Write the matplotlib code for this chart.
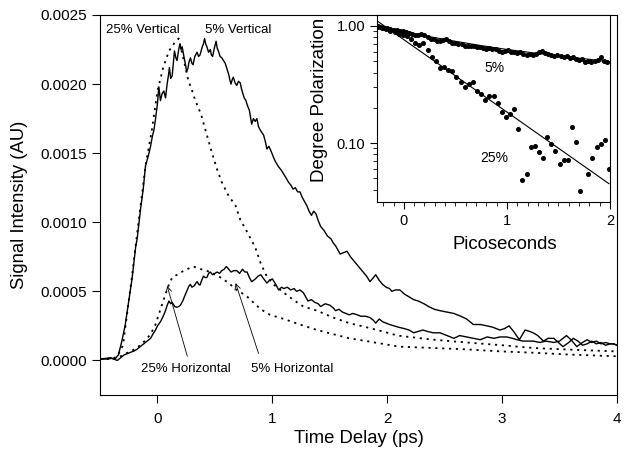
import numpy as np
import matplotlib
matplotlib.use("Agg")
import matplotlib.pyplot as plt
from matplotlib.ticker import MultipleLocator, FixedLocator, LogLocator, NullFormatter

plt.rcParams['font.family'] = ['Liberation Sans', 'DejaVu Sans']

# ---- main panel: signal vs time delay (signal in units of 1e-4) ----
t_v5 = [-0.50, -0.45, -0.40, -0.37, -0.34, -0.31, -0.28, -0.25, -0.22, -0.19, -0.177, -0.148,
        -0.124, -0.104, -0.08, -0.06, -0.045, -0.03, -0.015, 0.0, 0.012, 0.026, 0.04, 0.055,
        0.07, 0.084, 0.095, 0.104, 0.115, 0.128, 0.138, 0.148, 0.16, 0.17, 0.185, 0.195, 0.205,
        0.215, 0.23, 0.244, 0.254, 0.264, 0.275, 0.287, 0.30, 0.31, 0.325, 0.345, 0.358, 0.37,
        0.38, 0.39, 0.40, 0.41, 0.42, 0.43, 0.445, 0.46, 0.47, 0.48, 0.495, 0.51, 0.52, 0.53,
        0.545, 0.56, 0.575, 0.59, 0.605, 0.62, 0.63, 0.64, 0.65, 0.66, 0.675, 0.69, 0.705, 0.72,
        0.73, 0.74, 0.755, 0.77, 0.785, 0.80, 0.81, 0.82, 0.835, 0.85, 0.865, 0.88, 0.90, 0.924,
        0.94, 0.953, 0.97, 0.996, 1.01, 1.026, 1.04, 1.055, 1.075, 1.098, 1.12, 1.14, 1.16, 1.18,
        1.20, 1.22, 1.24, 1.26, 1.28, 1.30, 1.32, 1.34, 1.36, 1.38, 1.40, 1.42, 1.45, 1.48, 1.51,
        1.53, 1.55, 1.57, 1.59, 1.62, 1.65, 1.68, 1.71, 1.74, 1.77, 1.80, 1.82, 1.85, 1.88, 1.90,
        1.93, 1.96, 1.99, 2.02, 2.04, 2.07, 2.11, 2.15, 2.19, 2.23, 2.27, 2.32, 2.36, 2.41, 2.46,
        2.52, 2.58, 2.64, 2.69, 2.75, 2.81, 2.87, 2.92, 2.98, 3.02, 3.06, 3.10, 3.15, 3.20, 3.24,
        3.27, 3.31, 3.36, 3.40, 3.45, 3.49, 3.53, 3.58, 3.62, 3.66, 3.70, 3.74, 3.78, 3.82, 3.86,
        3.90, 3.94, 3.97, 4.00]
s_v5 = [0.1, 0.1, 0.15, 0.1, 0.4, 1.4, 2.6, 4.3, 6.0, 8.2, 8.8, 10.9,
        12.4, 14.1, 14.8, 15.5, 16.2, 16.7, 17.6, 18.6, 19.8, 18.8, 19.3, 19.5,
        19.0, 20.0, 20.6, 21.2, 20.4, 20.6, 21.5, 22.4, 21.9, 21.7, 22.5, 22.9, 22.5,
        22.7, 22.0, 21.4, 20.9, 21.1, 21.6, 21.9, 21.5, 21.4, 22.0, 22.3, 22.0, 22.1,
        22.4, 22.7, 22.9, 23.3, 22.9, 22.7, 22.3, 22.5, 22.1, 22.0, 22.6, 23.1, 22.6, 22.4,
        22.0, 21.9, 21.7, 21.5, 21.1, 20.7, 20.3, 20.0, 20.3, 20.5, 20.1, 19.9, 20.2, 20.1,
        19.7, 19.4, 19.0, 18.8, 18.4, 18.1, 17.6, 17.1, 17.5, 17.3, 17.5, 16.9, 16.6, 16.3,
        15.8, 15.3, 15.5, 15.0, 14.7, 14.4, 14.2, 14.0, 13.8, 13.5, 13.2, 12.9, 12.7, 12.4,
        12.5, 12.2, 12.2, 11.8, 11.5, 11.2, 10.8, 10.5, 10.8, 10.6, 10.1, 9.7, 9.4, 9.0, 8.8,
        8.5, 8.3, 8.0, 7.7, 7.8, 7.9, 7.5, 7.2, 6.9, 6.6, 6.3, 6.1, 5.7, 6.0, 6.2,
        5.8, 5.5, 5.3, 5.2, 5.0, 5.1, 5.1, 4.8, 4.6, 4.4, 4.3, 4.1, 3.9, 3.7, 3.6,
        3.5, 3.4, 3.2, 3.0, 2.6, 2.6, 2.5, 2.4, 2.2, 2.3, 2.5, 2.1, 1.5, 2.2, 2.1,
        2.0, 1.8, 1.4, 1.6, 1.6, 1.3, 1.0, 1.3, 1.6, 1.4, 1.1, 1.2, 1.4, 1.2, 1.3,
        1.1, 1.2, 1.2, 1.1]

t_h5 = [-0.50, -0.45, -0.41, -0.38, -0.35, -0.32, -0.29, -0.26, -0.23, -0.20, -0.18, -0.15,
        -0.12, -0.09, -0.06, -0.04, -0.017, 0.0, 0.026, 0.05, 0.07, 0.085, 0.10, 0.115, 0.128,
        0.15, 0.17, 0.185, 0.20, 0.22, 0.244, 0.26, 0.275, 0.287, 0.30, 0.32, 0.335, 0.345,
        0.36, 0.37, 0.385, 0.40, 0.415, 0.43, 0.445, 0.46, 0.48, 0.50, 0.52, 0.54, 0.56, 0.58,
        0.60, 0.62, 0.64, 0.665, 0.69, 0.715, 0.74, 0.76, 0.78, 0.80, 0.82, 0.853, 0.875, 0.90,
        0.925, 0.953, 0.975, 1.0, 1.03, 1.055, 1.08, 1.10, 1.13, 1.16, 1.19, 1.21, 1.24, 1.27,
        1.29, 1.31, 1.34, 1.37, 1.40, 1.42, 1.46, 1.50, 1.53, 1.55, 1.58, 1.61, 1.64, 1.67,
        1.70, 1.74, 1.77, 1.81, 1.85, 1.88, 1.90, 1.93, 1.96, 1.99, 2.02, 2.06, 2.10, 2.15,
        2.19, 2.23, 2.27, 2.31, 2.35, 2.40, 2.46, 2.52, 2.58, 2.63, 2.69, 2.75, 2.81, 2.87,
        2.93, 2.98, 3.04, 3.09, 3.13, 3.18, 3.22, 3.27, 3.33, 3.38, 3.45, 3.50, 3.56, 3.60,
        3.65, 3.70, 3.74, 3.78, 3.82, 3.86, 3.90, 3.94, 3.97, 4.00]
s_h5 = [0.1, 0.15, 0.2, 0.1, 0.0, 0.2, 0.4, 0.5, 0.6, 0.7, 0.8, 1.0,
        1.2, 1.4, 1.6, 1.9, 2.2, 2.5, 2.8, 3.2, 3.6, 4.0, 4.3, 4.1, 4.2,
        3.9, 3.85, 3.9, 4.0, 4.3, 4.8, 5.1, 5.4, 5.5, 5.3, 5.4, 5.6, 5.7,
        5.5, 5.45, 5.8, 6.1, 6.0, 6.0, 6.3, 6.4, 6.2, 6.3, 6.4, 6.3, 6.5, 6.6,
        6.8, 6.6, 6.4, 6.5, 6.5, 6.3, 6.6, 6.4, 6.4, 6.0, 5.7, 5.9, 6.1, 6.2,
        5.9, 5.6, 5.8, 5.9, 5.5, 5.1, 5.3, 5.2, 5.3, 5.1, 5.2, 5.0, 5.1, 4.9,
        4.6, 4.3, 4.4, 4.2, 4.1, 3.9, 4.1, 4.0, 3.8, 3.6, 3.7, 3.5, 3.4, 3.3,
        3.4, 3.3, 3.2, 3.2, 3.1, 2.9, 2.7, 3.0, 2.8, 2.7, 2.6, 2.5, 2.4, 2.3,
        2.2, 2.0, 2.1, 2.2, 2.1, 2.0, 2.0, 1.8, 1.6, 1.8, 1.7, 1.6, 1.5, 1.7,
        1.6, 1.7, 1.7, 1.6, 1.5, 1.4, 1.4, 1.4, 1.3, 1.4, 1.3, 1.4, 1.8, 1.5,
        1.0, 1.3, 1.5, 1.3, 1.4, 1.2, 1.3, 1.2, 1.2, 1.1]

t_v25 = [-0.50, -0.40, -0.35, -0.30, -0.25, -0.22, -0.19, -0.15, -0.10, -0.05, 0.0, 0.05,
         0.10, 0.15, 0.185, 0.21, 0.244, 0.27, 0.29, 0.33, 0.38, 0.42, 0.475, 0.52, 0.56,
         0.62, 0.68, 0.72, 0.78, 0.85, 0.90, 0.95, 1.01, 1.10, 1.18, 1.27, 1.39, 1.53, 1.67,
         1.82, 1.96, 2.09, 2.40, 2.69, 3.00, 3.27, 3.60, 4.00]
s_v25 = [0.1, 0.1, 0.3, 1.1, 4.3, 6.2, 8.3, 11.0, 14.3, 16.6, 19.5, 21.2,
         22.4, 23.0, 23.3, 22.4, 21.2, 20.2, 19.8, 18.8, 17.8, 16.6, 15.0, 13.8, 12.9,
         11.9, 11.2, 10.2, 9.3, 8.2, 7.0, 6.1, 5.5, 4.9, 4.4, 3.9, 3.6, 3.1, 2.7,
         2.4, 2.1, 1.8, 1.5, 1.3, 1.1, 0.9, 0.78, 0.65]

t_h25 = [-0.50, -0.40, -0.35, -0.30, -0.25, -0.20, -0.15, -0.10, -0.06, -0.017, 0.026, 0.07,
         0.10, 0.128, 0.17, 0.23, 0.31, 0.38, 0.46, 0.55, 0.62, 0.69, 0.77, 0.84, 0.90,
         0.98, 1.10, 1.24, 1.39, 1.53, 1.67, 1.82, 1.96, 2.10, 2.40, 2.69, 3.00, 3.27, 3.60, 4.00]
s_h25 = [0.1, 0.1, 0.15, 0.4, 0.6, 0.8, 1.1, 1.5, 1.9, 2.6, 3.7, 4.8,
         5.5, 6.0, 6.2, 6.5, 6.8, 6.6, 6.4, 6.0, 5.6, 5.1, 4.7, 4.15, 3.7,
         3.3, 3.0, 2.6, 2.2, 1.9, 1.6, 1.4, 1.2, 1.0, 0.9, 0.8, 0.65, 0.56, 0.42, 0.3]

yticks_main = [0.0, 0.0005, 0.0010, 0.0015, 0.0020, 0.0025]
xticks_main = [0, 1, 2, 3, 4]

# ---- inset: degree of polarization ----
p5 = [1.00, 0.98, 0.97, 0.96, 0.95, 0.93, 0.92, 0.91, 0.90, 0.88, 0.87, 0.86, 0.84, 0.83,
      0.85, 0.84, 0.80, 0.78, 0.77, 0.75, 0.74, 0.76, 0.77, 0.74, 0.72, 0.71, 0.70, 0.70,
      0.68, 0.67, 0.68, 0.67, 0.66, 0.66, 0.65, 0.64, 0.65, 0.63, 0.63, 0.61, 0.60, 0.61,
      0.62, 0.60, 0.60, 0.59, 0.60, 0.58, 0.57, 0.58, 0.57, 0.58, 0.60, 0.61, 0.59, 0.58,
      0.57, 0.55, 0.56, 0.55, 0.54, 0.55, 0.53, 0.54, 0.52, 0.51, 0.52, 0.49, 0.50, 0.49,
      0.50, 0.51, 0.54, 0.50, 0.49]
t5 = -0.25 + 0.03 * np.arange(len(p5))

t25 = [-0.25, -0.21, -0.17, -0.13, -0.09, -0.05, -0.01, 0.03, 0.07, 0.11, 0.15, 0.19, 0.23,
       0.27, 0.31, 0.35, 0.39, 0.43, 0.47, 0.51, 0.55, 0.59, 0.63, 0.67, 0.71, 0.75, 0.79,
       0.83, 0.87, 0.91, 0.95, 0.99, 1.03, 1.07, 1.11, 1.15, 1.19, 1.23, 1.27, 1.31, 1.35,
       1.39, 1.43, 1.47, 1.51, 1.55, 1.59, 1.63, 1.67, 1.71, 1.79, 1.83, 1.87, 1.91, 1.95, 1.99]
p25 = [0.98, 0.96, 0.94, 0.91, 0.89, 0.86, 0.84, 0.82, 0.77, 0.72, 0.69, 0.71, 0.62,
       0.54, 0.50, 0.44, 0.45, 0.42, 0.41, 0.37, 0.33, 0.30, 0.32, 0.33, 0.28, 0.265, 0.235,
       0.25, 0.25, 0.218, 0.183, 0.166, 0.177, 0.194, 0.133, 0.048, 0.054, 0.093, 0.095, 0.084, 0.074,
       0.112, 0.098, 0.085, 0.066, 0.072, 0.072, 0.138, 0.103, 0.039, 0.054, 0.075, 0.093, 0.098, 0.107, 0.060]

fit5_t = [-0.25, 0.0, 0.25, 0.5, 0.75, 1.0, 1.25, 1.5, 1.75, 2.0]
fit5_p = [1.0, 0.90, 0.81, 0.74, 0.68, 0.63, 0.59, 0.555, 0.525, 0.495]
fit25_t = [-0.25, 1.99]
fit25_p = [1.09, 0.045]

fig = plt.figure(figsize=(6.24, 4.51), dpi=100)
ax = fig.add_axes([0.1603, 0.1242, 0.8285, 0.8426])

dot = (0, (1.2, 2.6))
ax.plot(t_v5, np.array(s_v5) * 1e-4, color='k', lw=1.0)
ax.plot(t_h5, np.array(s_h5) * 1e-4, color='k', lw=1.0)
ax.plot(t_v25, np.array(s_v25) * 1e-4, color='k', lw=1.3, linestyle=dot)
ax.plot(t_h25, np.array(s_h25) * 1e-4, color='k', lw=1.3, linestyle=dot)

ax.set_xlim(-0.5, 4.0)
ax.set_ylim(-0.00025, 0.0025)
ax.set_yticks(yticks_main)
ax.set_yticklabels(['%.4f' % v for v in yticks_main])
ax.set_xticks(xticks_main)
ax.tick_params(direction='out', length=6, width=0.8, labelsize=11)
ax.tick_params(axis='x', pad=6)
for s in ax.spines.values():
    s.set_linewidth(0.8)
ax.set_xlabel('Time Delay (ps)', fontsize=13.3)
ax.set_ylabel('Signal Intensity (AU)', fontsize=13.3)
ax.xaxis.set_label_coords(0.5, -0.093)
ax.yaxis.set_label_coords(-0.14, 0.5)

ax.text(-0.13, 0.00239, '25% Vertical', fontsize=9.5, ha='center', va='center')
ax.text(0.70, 0.00239, '5% Vertical', fontsize=9.5, ha='center', va='center')
arrow = dict(arrowstyle='->', lw=0.6, color='k', shrinkA=0, shrinkB=0)
ax.annotate('', xy=(0.084, 0.00054), xytext=(0.26, 0.00003), arrowprops=arrow)
ax.annotate('', xy=(0.68, 0.00056), xytext=(0.88, 0.00005), arrowprops=arrow)
ax.text(0.25, -0.00006, '25% Horizontal', fontsize=9.5, ha='center', va='center')
ax.text(1.17, -0.00006, '5% Horizontal', fontsize=9.5, ha='center', va='center')

# inset
ins = fig.add_axes([0.6042, 0.5521, 0.3734, 0.4146])
ins.set_facecolor('white')
ins.plot(t5, p5, 'o', color='k', ms=2.6)
ins.plot(t25, p25, 'o', color='k', ms=2.6)
ins.plot(fit5_t, fit5_p, color='k', lw=0.8)
ins.plot(fit25_t, fit25_p, color='k', lw=0.8)
ins.set_yscale('log')
ins.set_xlim(-0.26, 2.0)
ins.set_ylim(0.0314, 1.24)
ins.set_yticks([0.1, 1.0])
ins.set_yticklabels(['0.10', '1.00'])
ins.yaxis.set_minor_locator(LogLocator(base=10, subs=np.arange(2, 10)))
ins.yaxis.set_minor_formatter(NullFormatter())
ins.set_xticks([0, 1, 2])
ins.xaxis.set_minor_locator(MultipleLocator(0.1))
ins.tick_params(which='major', direction='out', length=5, width=0.8, labelsize=10.5)
ins.tick_params(which='minor', direction='out', length=3, width=0.6)
for s in ins.spines.values():
    s.set_linewidth(0.8)
ins.set_xlabel('Picoseconds', fontsize=13.3)
ins.set_ylabel('Degree Polarization', fontsize=13.5)
ins.xaxis.set_label_coords(0.55, -0.18)
ins.yaxis.set_label_coords(-0.21, 0.545)
ins.text(0.88, 0.435, '5%', fontsize=10, ha='center', va='center')
ins.text(0.88, 0.074, '25%', fontsize=10, ha='center', va='center')

fig.savefig('out.png', dpi=100)
